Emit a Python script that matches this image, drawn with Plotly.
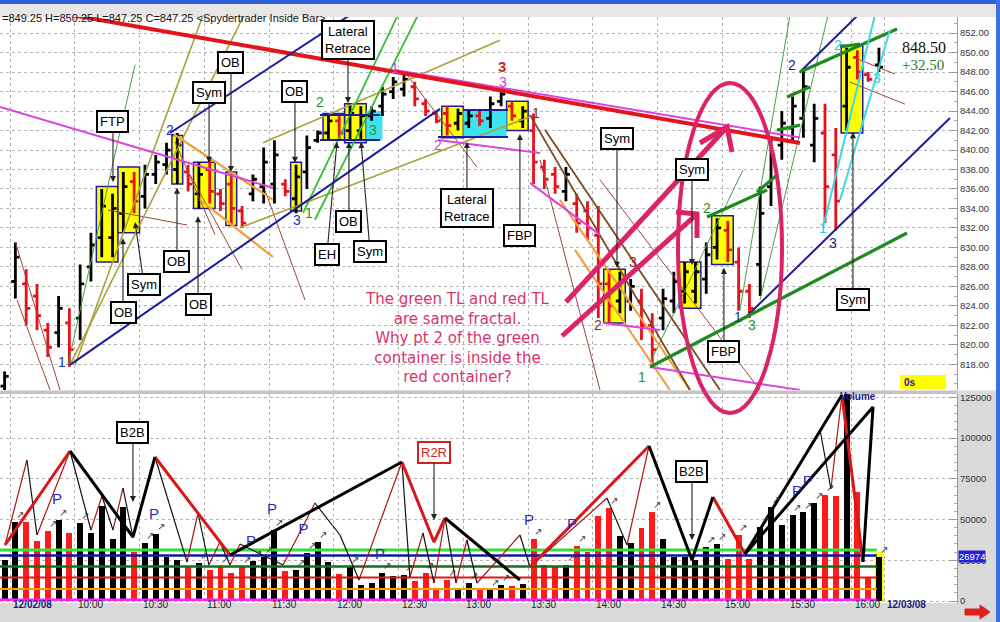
import plotly.graph_objects as go

# ---------------- data ----------------
# 5-minute bars, index 0 = 09:30 bar of 12/02/08 (index -1 = previous session)
bar_index = list(range(-1, 81))
highs = [817.25, 830.5, 827.75, 826.25, 822.25, 825.0, 823.75, 828.25, 831.5, 836.0,
         835.5, 837.75, 837.75, 838.5, 839.5, 840.75, 841.75, 838.5, 838.75, 839.0,
         836.0, 837.75, 834.25, 837.5, 840.25, 841.0, 837.0, 838.5, 841.5, 842.0,
         843.75, 843.75, 844.75, 844.5, 844.5, 846.5, 847.5, 848.0, 847.0, 845.25,
         844.0, 844.5, 844.25, 844.0, 844.0, 845.5, 846.25, 845.0, 844.5, 843.75,
         839.0, 838.25, 838.25, 835.5, 834.75, 834.25, 827.75, 827.5, 826.75, 825.75,
         823.25, 825.75, 827.5, 828.5, 828.5, 830.5, 833.0, 832.75, 830.0, 826.25,
         836.25, 841.25, 844.0, 845.5, 848.25, 844.75, 844.75, 842.25, 850.5, 850.25,
         848.0, 850.5]
lows = [815.25, 824.75, 822.0, 821.5, 818.75, 819.75, 817.75, 820.5, 826.5, 829.0,
        829.0, 831.5, 833.5, 834.0, 836.5, 837.5, 836.5, 835.75, 834.0, 834.5,
        833.75, 832.25, 832.0, 834.75, 834.5, 834.5, 835.25, 833.5, 836.0, 840.75,
        841.0, 841.0, 841.0, 841.0, 843.0, 843.5, 845.25, 845.5, 844.5, 843.5,
        842.75, 841.5, 842.0, 842.25, 842.5, 842.25, 844.5, 843.0, 842.25, 836.5,
        836.0, 835.5, 834.75, 831.5, 830.75, 822.75, 822.25, 823.25, 823.5, 820.5,
        817.75, 821.5, 823.25, 824.25, 824.25, 825.25, 828.75, 828.5, 823.5, 822.75,
        825.0, 834.25, 839.0, 841.0, 841.25, 838.75, 832.5, 831.75, 842.0, 847.25,
        847.0, 848.0]
opens = [815.75, 826.5, 826.25, 825.0, 821.5, 821.25, 822.25, 822.75, 828.0, 831.0,
         831.0, 833.5, 836.75, 835.25, 837.5, 838.5, 838.0, 837.75, 835.5, 838.0,
         835.5, 836.5, 833.75, 835.5, 836.25, 836.5, 836.5, 835.0, 837.75, 841.0,
         841.75, 843.0, 842.0, 842.0, 843.5, 844.5, 846.0, 846.25, 846.5, 844.75,
         843.75, 843.75, 842.75, 842.75, 843.5, 843.25, 845.0, 844.5, 843.0, 842.0,
         838.25, 837.5, 835.75, 834.5, 833.75, 831.25, 826.25, 824.5, 824.5, 824.5,
         822.0, 822.75, 824.5, 825.5, 825.5, 826.75, 830.0, 831.75, 828.5, 825.5,
         828.25, 836.25, 840.5, 842.25, 843.25, 840.5, 841.75, 839.5, 844.5, 849.5,
         847.75, 848.75]
closes = [816.75, 829.0, 823.75, 823.0, 819.75, 823.75, 819.5, 826.25, 830.25, 834.25,
          834.0, 836.25, 834.75, 837.5, 838.75, 840.0, 840.5, 836.5, 837.5, 835.75,
          834.5, 834.0, 832.5, 837.0, 838.75, 839.5, 835.75, 837.25, 840.25, 841.75,
          843.0, 841.75, 843.75, 843.5, 844.0, 845.75, 847.0, 847.25, 845.25, 844.0,
          843.0, 842.5, 843.75, 843.5, 843.0, 844.75, 845.75, 843.5, 844.0, 838.75,
          837.0, 836.25, 837.5, 832.5, 832.0, 826.25, 824.0, 826.5, 826.0, 822.0,
          819.5, 824.75, 826.5, 827.5, 827.5, 829.25, 832.0, 829.75, 825.5, 823.75,
          833.5, 839.5, 842.75, 844.5, 846.5, 843.25, 836.25, 834.75, 848.5, 848.0,
          847.25, 848.5]
volumes = [25000, 48700, 48700, 36800, 43000, 49700, 41700, 48000, 42000, 58300,
           38000, 57900, 30000, 35800, 41000, 27200, 25200, 21000, 23500, 19000,
           20800, 17400, 20800, 24500, 27200, 43600, 18400, 19000, 29600, 36200,
           23900, 16600, 21000, 9800, 11000, 17200, 15300, 16000, 12300, 17400,
           6700, 12900, 6700, 11000, 7400, 6700, 9800, 9200, 10400, 38000,
           22000, 21000, 22000, 33700, 30000, 52000, 57000, 40000, 35600, 45000,
           54600, 38000, 27200, 27000, 25000, 33300, 35000, 25800, 40500, 25800,
           45600, 57900, 46600, 52800, 54400, 60300, 65000, 64400, 128000, 66700,
           14300, 26974]
bar_color = list("kk" "rrr" "k" "r" "kkkkk" "r" "kkkk" "r" "k" "rrrr" "kkk" "r" "kkkk" "r"
                 "kkkkkk" "rrrr" "kk" "r" "kk" "r" "k" "rrr" "k" "rrrr" "kk" "rr" "kkkkkk"
                 "rrr" "kkkkkk" "rr" "k" "rr" "k")

time_ticks = [-0.5, 5.5, 11.5, 17.5, 23.5, 29.5, 35.5, 41.5, 47.5, 53.5, 59.5, 65.5, 71.5, 77.5, 80.5]
time_labels = ["12/02/08", "10:00", "10:30", "11:00", "11:30", "12:00", "12:30", "13:00",
               "13:30", "14:00", "14:30", "15:00", "15:30", "16:00", "12/03/08"]
price_ticks = [818, 820, 822, 824, 826, 828, 830, 832, 834, 836, 838, 840, 842, 844, 846, 848, 850, 852]
vol_ticks = [0, 25000, 50000, 75000, 100000, 125000]
vol_levels = [31300, 27900, 21200, 14400, 7400, 700]   # horizontal volume reference lines

# trend lines (bar index, price)
red_tl = [[(4.13, 854.07), (72.68, 840.72)]]
magenta_tl = [[(35.17, 848.22), (72.68, 841.29)], [(-1.43, 844.43), (23.86, 836.11)],
              [(39.15, 841.03), (48.6, 839.7)], [(54.43, 822.24), (59.71, 821.52)],
              [(58.79, 817.72), (72.68, 815.36)], [(47.67, 836.63), (54.16, 831.29)]]
navy_tl = [[(5.06, 817.94), (39.33, 844.22)], [(14.32, 841.75), (30.99, 853.86)],
           [(67.59, 822.76), (86.58, 843.29)], [(72.68, 848.01), (78.06, 853.86)],
           [(28.22, 843.6), (33.78, 843.6)], [(28.22, 841.03), (33.78, 841.03)],
           [(39.15, 841.34), (45.63, 841.34)], [(41.5, 844.11), (45.63, 844.11)]]
green_tl = [[(58.79, 817.72), (82.6, 831.48)], [(64.07, 833.13), (69.63, 835.9)],
            [(72.68, 848.01), (81.67, 852.43)], [(70.55, 842.04), (72.68, 842.56)],
            [(71.48, 845.44), (73.61, 846.47)], [(68.7, 835.69), (70.55, 837.43)],
            [(76.39, 850.58), (78.24, 850.89)]]
olive_tl = [[(5.06, 817.94), (21.18, 853.86)], [(5.52, 817.93), (17.38, 853.86)],
            [(22.94, 840.75), (44.89, 851.27)], [(20.8, 832.02), (47.67, 843.41)]]
orange_tl = [[(14.6, 841.67), (23.86, 834.89)], [(17.1, 834.87), (23.86, 829.02)],
             [(50.45, 834.88), (62.49, 815.36)], [(51.84, 829.75), (60.63, 815.36)]]
brown_tl = [[(47.67, 843.61), (62.49, 815.36)], [(49.06, 842.07), (65.27, 815.36)]]
lime_tl = [[(26.65, 833.55), (35.44, 853.86)], [(27.75, 832.84), (37.3, 853.86)]]
thin_green_tl = [[(4.87, 817.97), (11.08, 848.77)], [(58.79, 818.14), (67.4, 837.95)],
                 [(67.12, 823.55), (71.76, 853.86)], [(68.98, 824.6), (75.28, 853.86)]]
cyan_tl = [[(74.81, 832.0), (79.63, 853.86)], [(76.39, 834.87), (81.02, 852.32)]]
maroon_tl = [[(0.0, 830.56), (4.13, 815.36)], [(0.15, 824.6), (3.21, 815.36)],
             [(8.58, 833.84), (15.9, 832.3)], [(14.78, 840.87), (18.49, 831.32)],
             [(16.17, 837.48), (20.99, 827.73)], [(23.12, 835.87), (26.83, 824.6)],
             [(36.09, 848.0), (42.76, 838.24)], [(77.59, 849.54), (81.48, 847.8)],
             [(77.3, 846.98), (82.4, 844.72)], [(48.6, 839.0), (54.16, 815.36)],
             [(54.16, 836.95), (68.98, 815.36)]]

# highlighted containers (first index, last index, low, high)
yellow_boxes = [(7.5, 9.5, 828.5, 836.25), (9.5, 11.5, 831.5, 838.25), (14.5, 15.5, 836.5, 841.5),
                (16.5, 18.5, 834.0, 838.75), (19.5, 20.5, 832.25, 837.75), (25.5, 26.5, 833.75, 838.75),
                (28.5, 30.5, 841.0, 843.75), (30.5, 32.5, 840.75, 844.75), (39.5, 41.5, 841.25, 844.5),
                (45.5, 47.5, 842.0, 845.0), (54.5, 56.5, 822.25, 827.75), (61.5, 63.5, 823.75, 828.5),
                (64.5, 66.5, 828.25, 833.25), (76.5, 78.5, 841.75, 850.75)]
cyan_boxes = [(32.5, 34.0, 841.0, 844.0), (41.5, 45.5, 841.25, 844.0)]

# volume zig-zag (bar index, volume)
zz_points = [(-0.96, 34364), (1.07, 86525), (2.0, 40501), (5.06, 92048), (7.0, 43569), (8.02, 64433),
             (9.04, 43569), (9.97, 69342), (10.89, 39274), (12.93, 88366), (15.9, 23932), (16.92, 54001),
             (17.93, 22091), (18.95, 36205), (19.88, 22091), (20.81, 34978), (24.79, 22091), (27.75, 60138),
             (30.07, 40501), (31.83, 12887), (35.81, 85297), (36.55, 14728), (37.76, 41728), (38.78, 11046),
             (39.8, 50933), (40.82, 11046), (41.83, 37433), (42.76, 11046), (46.74, 40501), (47.67, 20864),
             (54.8, 63206), (56.66, 34364), (58.7, 95116), (59.71, 78547), (62.68, 25160), (64.62, 63820),
             (67.59, 28842), (74.54, 104934), (75.55, 68729), (76.57, 126412), (78.52, 23932), (79.45, 119048)]
thick_red_vol = [[(-0.96, 34364), (5.06, 92048)], [(12.93, 88366), (19.88, 28228)],
                 [(35.81, 85297), (38.78, 36205), (39.8, 50933)], [(47.67, 20864), (58.7, 95116)],
                 [(64.62, 63820), (67.59, 28842)], [(76.57, 126412), (78.52, 23932)]]
thick_black_vol = [[(5.06, 92048), (10.89, 39274), (12.93, 88366)], [(19.88, 28228), (35.81, 85297)],
                   [(39.8, 50933), (46.74, 12887)], [(58.7, 95116), (62.68, 25160), (64.62, 63820)],
                   [(67.59, 28842), (79.45, 119048), (78.52, 23932)], [(67.59, 28842), (76.57, 126412)]]
p_marks = [(3.85, 61979), (12.84, 52774), (23.77, 55842), (21.83, 36205), (26.7, 43569),
           (33.77, 28228), (47.58, 49092), (51.56, 46637), (72.4, 66888), (73.4, 73024)]
arrow_bars = [0, 3, 4, 6, 12, 13, 17, 19, 21, 22, 23, 24, 26, 27, 28, 31, 34, 36, 38, 40, 42, 44, 45,
              48, 51, 52, 55, 59, 64, 65, 67, 69, 70, 72, 73, 74, 75, 80]

# ---------------- figure ----------------
W, H = 1000, 622
XR = [-1.426, 87.23]
fig = go.Figure()


def paper(x, y):
    return x / W, 1 - y / H


def seg_xy(segs):
    xs, ys = [], []
    for s in segs:
        for (a, b) in s:
            xs.append(a)
            ys.append(b)
        xs.append(None)
        ys.append(None)
    return xs, ys


def add_lines(segs, color, width, xa='x', ya='y', dash=None):
    xs, ys = seg_xy(segs)
    fig.add_trace(go.Scatter(x=xs, y=ys, mode='lines', xaxis=xa, yaxis=ya,
                             line=dict(color=color, width=width, dash=dash),
                             hoverinfo='skip', showlegend=False))


# thin lines under the bars
add_lines(maroon_tl, '#a0453a', 1)
add_lines(thin_green_tl, '#4aa04a', 1)
add_lines(olive_tl, '#a9a23a', 1.6)
add_lines(orange_tl, '#f0a040', 2.2)
add_lines(brown_tl, '#7a4a20', 1.8)
add_lines(lime_tl, '#33c033', 1.8)
add_lines(magenta_tl, '#dd44dd', 2)

# price bars
for code, col in (('k', '#000000'), ('r', '#e8101a')):
    ks = [k for k, c in enumerate(bar_color) if c == code]
    fig.add_trace(go.Ohlc(x=[bar_index[k] for k in ks], open=[opens[k] for k in ks],
                          high=[highs[k] for k in ks], low=[lows[k] for k in ks],
                          close=[closes[k] for k in ks], tickwidth=0.38,
                          increasing=dict(line=dict(color=col, width=2.8)),
                          decreasing=dict(line=dict(color=col, width=2.8)),
                          xaxis='x', yaxis='y', hoverinfo='skip', showlegend=False))

# main trend lines on top
add_lines(red_tl, '#e3141e', 4)
add_lines(navy_tl, '#1c1c9a', 2)
add_lines(green_tl, '#1f8a1f', 3.2)
add_lines(cyan_tl, '#3fd6e6', 2)

# volume bars
fig.add_trace(go.Bar(x=bar_index, y=volumes, width=0.55, xaxis='x2', yaxis='y2',
                     marker=dict(color=['#000000' if c == 'k' else '#ff1a1a' for c in bar_color],
                                 line=dict(width=0)),
                     hoverinfo='skip', showlegend=False))
for lvl, col, wd in zip(vol_levels, ['#35e035', '#1414a8', '#137013', '#e01818', '#ff9a00', '#ff22ff'],
                        [3, 2.5, 2.5, 2, 2, 2.5]):
    add_lines([[(XR[0], lvl), (79.8, lvl)]], col, wd, 'x2', 'y2')

# volume zig-zags
up_segs, dn_segs = [], []
for a, b in zip(zz_points[:-1], zz_points[1:]):
    (up_segs if b[1] > a[1] else dn_segs).append([a, b])
add_lines(up_segs, '#b01515', 1.2, 'x2', 'y2')
add_lines(dn_segs, '#111111', 1.2, 'x2', 'y2')
add_lines(thick_red_vol, '#d81818', 3, 'x2', 'y2')
add_lines(thick_black_vol, '#000000', 3, 'x2', 'y2')

fig.add_trace(go.Scatter(x=[b + 0.45 for b in arrow_bars],
                         y=[volumes[bar_index.index(b)] + 3800 for b in arrow_bars],
                         mode='text', text=['↗'] * len(arrow_bars), xaxis='x2', yaxis='y2',
                         textfont=dict(size=10, color='#333333'), hoverinfo='skip', showlegend=False))
fig.add_trace(go.Scatter(x=[p[0] for p in p_marks], y=[p[1] for p in p_marks], mode='text',
                         text=['P'] * len(p_marks), xaxis='x2', yaxis='y2',
                         textfont=dict(size=15, color='#2a2ab8', family='Liberation Sans'),
                         hoverinfo='skip', showlegend=False))

# ---------------- shapes ----------------
shapes = []
for (x0, x1, y0, y1) in yellow_boxes:
    shapes.append(dict(type='rect', xref='x', yref='y', x0=x0, x1=x1, y0=y0, y1=y1,
                       fillcolor='#ffff00', line=dict(color='#1c1c9c', width=1.5), layer='between'))
for (x0, x1, y0, y1) in cyan_boxes:
    shapes.append(dict(type='rect', xref='x', yref='y', x0=x0, x1=x1, y0=y0, y1=y1,
                       fillcolor='#3fe3ef', line=dict(width=0), layer='between'))
shapes.append(dict(type='rect', xref='x2', yref='y2', x0=79.6, x1=80.45, y0=0, y1=30000,
                   fillcolor='#ffff00', line=dict(width=0), layer='between'))


def prect(x0, y0, x1, y1, color):
    a = paper(x0, y0)
    b = paper(x1, y1)
    return dict(type='rect', xref='paper', yref='paper', x0=a[0], y0=b[1], x1=b[0], y1=a[1],
                fillcolor=color, line=dict(width=0), layer='below')


shapes += [prect(0, 0, 1000, 4, '#2c5fd8'), prect(0, 4, 1000, 17, '#e6e6e6'),
           prect(0, 390.5, 957, 394, '#c4c4c4'), prect(957, 390.5, 1000, 603, '#dadada'),
           prect(0, 603, 1000, 622, '#d9d9d9'), prect(996, 0, 1000, 622, '#3d6fe0')]
zs = paper(900, 375)
ze = paper(946, 389)
shapes.append(dict(type='rect', xref='paper', yref='paper', x0=zs[0], x1=ze[0], y0=ze[1], y1=zs[1],
                   fillcolor='#ffff00', line=dict(width=0), layer='above'))


def ppath(points, color, width, fill=None, close=False):
    d = ''
    for i, (x, y) in enumerate(points):
        px, py = paper(x, y)
        d += ('M' if i == 0 else 'L') + f'{px:.5f},{py:.5f} '
    if close:
        d += 'Z'
    return dict(type='path', xref='paper', yref='paper', path=d, layer='above',
                line=dict(color=color, width=width), fillcolor=fill)


PINK = '#dd2266'
e0 = paper(678, 83)
e1 = paper(782, 413)
shapes.append(dict(type='circle', xref='paper', yref='paper', x0=e0[0], x1=e1[0], y0=e1[1], y1=e0[1],
                   line=dict(color=PINK, width=4), layer='above'))
shapes.append(ppath([(562, 336), (697, 214)], PINK, 5))
shapes.append(ppath([(676, 212), (697, 214), (697, 238)], PINK, 5))
shapes.append(ppath([(566, 302), (727, 127)], PINK, 5))
shapes.append(ppath([(700, 143), (727, 127), (732, 152)], PINK, 5))
shapes.append(ppath([(965, 609), (980, 609), (980, 605), (990, 612), (980, 619), (980, 615), (965, 615)],
                    '#e02020', 1, '#e02020', True))

# ---------------- annotations ----------------
ann = []


def boxed(text, x, y, ax, ay, xref='x', yref='y', color='#000000'):
    ann.append(dict(text=text, x=x, y=y, xref=xref, yref=yref, ax=ax, ay=ay, showarrow=True,
                    arrowhead=2, arrowsize=1.1, arrowwidth=1.1, arrowcolor='#222222',
                    bordercolor=color, borderwidth=2, borderpad=2, bgcolor='white', align='center',
                    font=dict(family='Liberation Sans', size=13, color=color)))


boxed('FTP', 9.04, 836.71, 0, -61)
boxed('Sym', 11.08, 832.61, 9, 62)
boxed('OB', 9.97, 830.95, 0, 74)
boxed('OB', 14.97, 836.13, 0, 74)
boxed('OB', 16.92, 833.2, 0, 88)
boxed('Sym', 17.94, 838.68, 0, -70)
boxed('OB', 19.97, 837.74, 0, -110)
boxed('OB', 25.9, 838.68, 0, -71)
boxed('Lateral<br>Retrace', 30.81, 844.83, 0, -63)
boxed('EH', 29.79, 840.82, -10, 112)
boxed('OB', 30.9, 840.82, 0, 79)
boxed('Sym', 32.02, 840.82, 9, 109)
boxed('Lateral<br>Retrace', 41.83, 840.82, 0, 66)
boxed('FBP', 46.74, 841.64, 0, 101)
boxed('Sym', 55.73, 827.9, 0, -129)
boxed('Sym', 62.68, 828.2, 0, -95)
boxed('FBP', 65.64, 827.9, 0, 84)
boxed('Sym', 77.59, 841.84, 0, 167)
boxed('B2B', 10.89, 60751, 0, -70, 'x2', 'y2')
boxed('R2R', 38.78, 49706, 0, -68, 'x2', 'y2', '#d42020')
boxed('B2B', 62.68, 37433, 0, -69, 'x2', 'y2')

BLUE, GREEN, MAG, RED, MAR, NAVY, CY = '#2233bb', '#22992a', '#cc44cc', '#e02020', '#8b2a2a', '#1a1a8a', '#33ccdd'
num_labels = [('1', 4.32, 818.24, BLUE), ('2', 14.3, 842.05, BLUE), ('3', 26.1, 832.8, BLUE),
              ('1', 27.2, 833.55, GREEN), ('2', 28.2, 844.9, GREEN), ('3', 33.1, 842.05, GREEN),
              ('1', 35.2, 848.45, MAG), ('2', 39.15, 840.5, MAG), ('3', 45.2, 847.0, MAG),
              ('1', 48.2, 843.8, MAR), ('3', 57.2, 828.5, MAR), ('2', 54.0, 822.05, MAR),
              ('1', 58.05, 816.7, GREEN), ('2', 64.07, 834.05, GREEN), ('1', 66.9, 822.85, BLUE),
              ('3', 68.2, 822.05, GREEN), ('2', 71.94, 848.73, NAVY), ('1', 74.8, 832.0, CY),
              ('3', 75.75, 830.5, NAVY), ('2', 76.2, 850.8, CY), ('3', 79.8, 847.4, CY)]
for t, x, y, c in num_labels:
    ann.append(dict(text=t, x=x, y=y, xref='x', yref='y', showarrow=False,
                    font=dict(family='Liberation Sans', size=14, color=c)))
ann.append(dict(text='<b>3</b>', x=45.08, y=848.6, xref='x', yref='y', showarrow=False,
                font=dict(family='Liberation Sans', size=15, color=RED)))

tx, ty = paper(457, 338)
ann.append(dict(text='The green TL and red TL<br>are same fractal.<br>Why pt 2 of the green<br>'
                     'container is inside the<br>red container?',
                x=tx, y=ty, xref='paper', yref='paper', showarrow=False, align='center',
                font=dict(family='DejaVu Sans', size=15, color='#d8336b')))

hx, hy = paper(0, 10)
ann.append(dict(text='=849.25\u00a0H=850.25\u00a0L=847.25\u00a0C=847.25\u00a0'
                     '&lt;Spydertrader Inside Bar&gt;',
                x=hx, y=hy, xref='paper', yref='paper', xanchor='left', showarrow=False,
                font=dict(family='Liberation Sans', size=11, color='#111111')))
px_, py_ = paper(900, 37)
ann.append(dict(text='848.50', x=px_, y=py_, xref='paper', yref='paper', xanchor='left', showarrow=False,
                font=dict(family='Liberation Serif', size=16, color='#111111')))
px_, py_ = paper(900, 55)
ann.append(dict(text='+32.50', x=px_, y=py_, xref='paper', yref='paper', xanchor='left', showarrow=False,
                font=dict(family='Liberation Serif', size=15, color='#2a7a2a')))
px_, py_ = paper(902, 382)
ann.append(dict(text='<b>0s</b>', x=px_, y=py_, xref='paper', yref='paper', xanchor='left', showarrow=False,
                font=dict(family='Liberation Sans', size=10, color='#1a1a8a')))
px_, py_ = paper(878, 397)
ann.append(dict(text='<b>Volume</b>', x=px_, y=py_, xref='paper', yref='paper', showarrow=False,
                font=dict(family='Liberation Sans', size=10, color='#1a1a8a')))
px_, py_ = paper(958, 563)
ann.append(dict(text='26974', x=px_, y=py_, xref='paper', yref='paper', xanchor='left', showarrow=False,
                bgcolor='#2323d0', borderpad=0, font=dict(family='Liberation Sans', size=9.5, color='white')))
for v, lab in zip(time_ticks, time_labels):
    is_date = '/' in lab
    ann.append(dict(text=f'<b>{lab}</b>' if is_date else lab, x=v, y=1 - 612 / H, xref='x2', yref='paper',
                    xanchor='left', xshift=1, showarrow=False,
                    font=dict(family='Liberation Sans', size=10, color='#1a1a7a' if is_date else '#202030')))

grid = dict(showgrid=True, gridcolor='#b4b4b4', griddash='dot', gridwidth=1, zeroline=False, fixedrange=True)
ytick = dict(family='Liberation Sans', size=9.5, color='#333333')
fig.update_layout(
    width=W, height=H, margin=dict(l=0, r=0, t=0, b=0, autoexpand=False), paper_bgcolor='white',
    plot_bgcolor='white', showlegend=False, shapes=shapes, annotations=ann, bargap=0,
    xaxis=dict(domain=[0, 0.957], range=XR, anchor='y', tickmode='array', tickvals=time_ticks,
               showticklabels=False, ticks='', rangeslider=dict(visible=False), **grid),
    yaxis=dict(domain=[1 - 390 / H, 1 - 17 / H], range=[815.36, 853.66], side='right', anchor='x',
               tickmode='array', tickvals=price_ticks, ticktext=[f'{v:.2f}' for v in price_ticks],
               ticks='inside', ticklen=7, tickcolor='#999999', tickfont=ytick, automargin=False,
               showline=True, linecolor='#9a9a9a',
               minor=dict(tickmode='linear', tick0=818, dtick=1, ticks='inside', ticklen=3,
                          tickcolor='#aaaaaa', showgrid=False), **grid),
    xaxis2=dict(domain=[0, 0.957], range=XR, anchor='y2', matches='x', tickmode='array',
                tickvals=time_ticks, showticklabels=False, ticks='', rangeslider=dict(visible=False), **grid),
    yaxis2=dict(domain=[1 - 603 / H, 1 - 394 / H], range=[-1227, 127026], side='right', anchor='x2',
                tickmode='array', tickvals=vol_ticks, ticktext=[str(v) for v in vol_ticks],
                ticks='inside', ticklen=7, tickcolor='#999999', tickfont=ytick, automargin=False,
                showline=True, linecolor='#9a9a9a',
                minor=dict(tickmode='linear', tick0=0, dtick=5000, ticks='inside', ticklen=3,
                           tickcolor='#aaaaaa', showgrid=False), **grid),
)

fig.write_html("out.html", config={'displayModeBar': False},
               post_script="document.body.style.margin='0px';document.body.style.padding='0px';"
                           "document.body.style.overflow='hidden';")
